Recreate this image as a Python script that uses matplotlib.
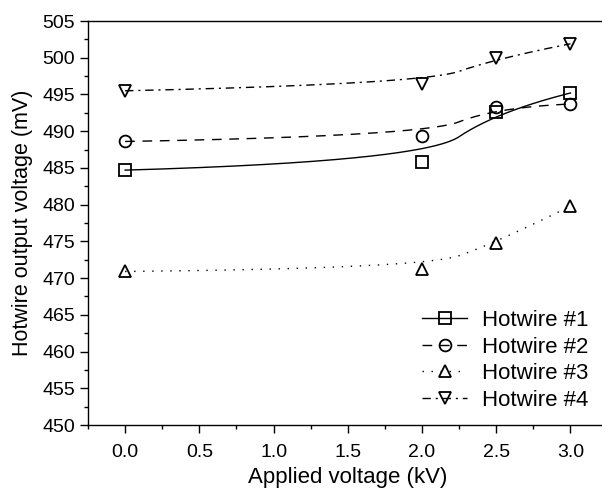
import numpy as np
import matplotlib
matplotlib.use("Agg")
import matplotlib.pyplot as plt

plt.rcParams['font.family'] = ['Liberation Sans', 'DejaVu Sans']

applied_kv = [0.0, 2.0, 2.5, 3.0]
hotwire1 = [484.7, 485.85, 492.65, 495.2]
hotwire2 = [488.6, 489.3, 493.25, 493.7]
hotwire3 = [470.9, 471.3, 474.8, 479.8]
hotwire4 = [495.5, 496.4, 499.9, 501.9]
labels = ["Hotwire #1", "Hotwire #2", "Hotwire #3", "Hotwire #4"]
xticks = [0.0, 0.5, 1.0, 1.5, 2.0, 2.5, 3.0]
yticks = list(range(450, 506, 5))


def bspline(xs, ys, degree=2, n=300):
    """Clamped B-spline using the data points as control points."""
    P = np.column_stack([xs, ys]).astype(float)
    m = len(P)
    k = degree
    inner = np.linspace(0, 1, m - k + 1)[1:-1]
    knots = np.concatenate([np.zeros(k + 1), inner, np.ones(k + 1)])
    u = np.linspace(0, 1, n)
    u[-1] -= 1e-12

    def N(i, p, t):
        if p == 0:
            return np.where((knots[i] <= t) & (t < knots[i + 1]), 1.0, 0.0)
        a = 0.0
        b = 0.0
        d1 = knots[i + p] - knots[i]
        d2 = knots[i + p + 1] - knots[i + 1]
        if d1 > 0:
            a = (t - knots[i]) / d1 * N(i, p - 1, t)
        if d2 > 0:
            b = (knots[i + p + 1] - t) / d2 * N(i + 1, p - 1, t)
        return a + b

    B = np.array([N(i, k, u) for i in range(m)])
    C = B.T @ P
    return C[:, 0], C[:, 1]


fig = plt.figure(figsize=(6.02, 4.96), dpi=100)
ax = fig.add_axes([88 / 602, 1 - 425 / 496, (607.6 - 88) / 602, (425 - 21) / 496])

series = [hotwire1, hotwire2, hotwire3, hotwire4]
markers = ['s', 'o', '^', 'v']
styles = ['-', (0, (7, 5.5)), (0, (1, 5.5)), (0, (6, 3.5, 1.5, 3.5))]

for ys, mk, ls, lab in zip(series, markers, styles, labels):
    cx, cy = bspline(applied_kv, ys)
    ax.plot(cx, cy, color='black', lw=1.0, linestyle=ls)
    ax.plot(applied_kv, ys, linestyle='none', marker=mk, ms=8.5,
            mfc='none', mec='black', mew=1.3)
    ax.plot([], [], color='black', lw=1.0, linestyle=ls, marker=mk, ms=8.5,
            mfc='none', mec='black', mew=1.3, label=lab)

ax.set_xlim(-0.25, 3.25)
ax.set_ylim(450, 505)
ax.set_xticks(xticks)
ax.set_xticklabels([f"{v:.1f}" for v in xticks])
ax.set_yticks(yticks)
ax.set_xticks(np.arange(-0.25, 3.26, 0.25), minor=True)
ax.set_yticks(np.arange(450, 505.1, 2.5), minor=True)
ax.tick_params(which='major', direction='out', length=5.5, width=1, labelsize=14)
ax.tick_params(which='minor', direction='out', length=3, width=1)
ax.tick_params(axis='x', which='major', pad=8.5)
ax.tick_params(axis='y', which='major', pad=4)
ax.tick_params(axis='x', which='both', top=False)
ax.tick_params(axis='y', which='both', right=False)
for s in ax.spines.values():
    s.set_linewidth(1.0)
ax.spines['right'].set_visible(False)

ax.set_xlabel("Applied voltage (kV)", fontsize=16)
ax.set_ylabel("Hotwire output voltage (mV)", fontsize=15.5)
ax.xaxis.set_label_coords(0.5, (425 - 478) / 404)
ax.xaxis.label.set_verticalalignment('center')
ax.yaxis.set_label_coords((22 - 88) / 519.6, 0.5)
ax.yaxis.label.set_verticalalignment('center')

handles, labs = ax.get_legend_handles_labels()
leg = ax.legend(handles, labs, loc='lower right', frameon=False, fontsize=16,
                handlelength=2.0, handletextpad=0.7, labelspacing=0.25,
                bbox_to_anchor=(0.981, 0.0135), borderaxespad=0)

fig.savefig("out.png", dpi=100)
